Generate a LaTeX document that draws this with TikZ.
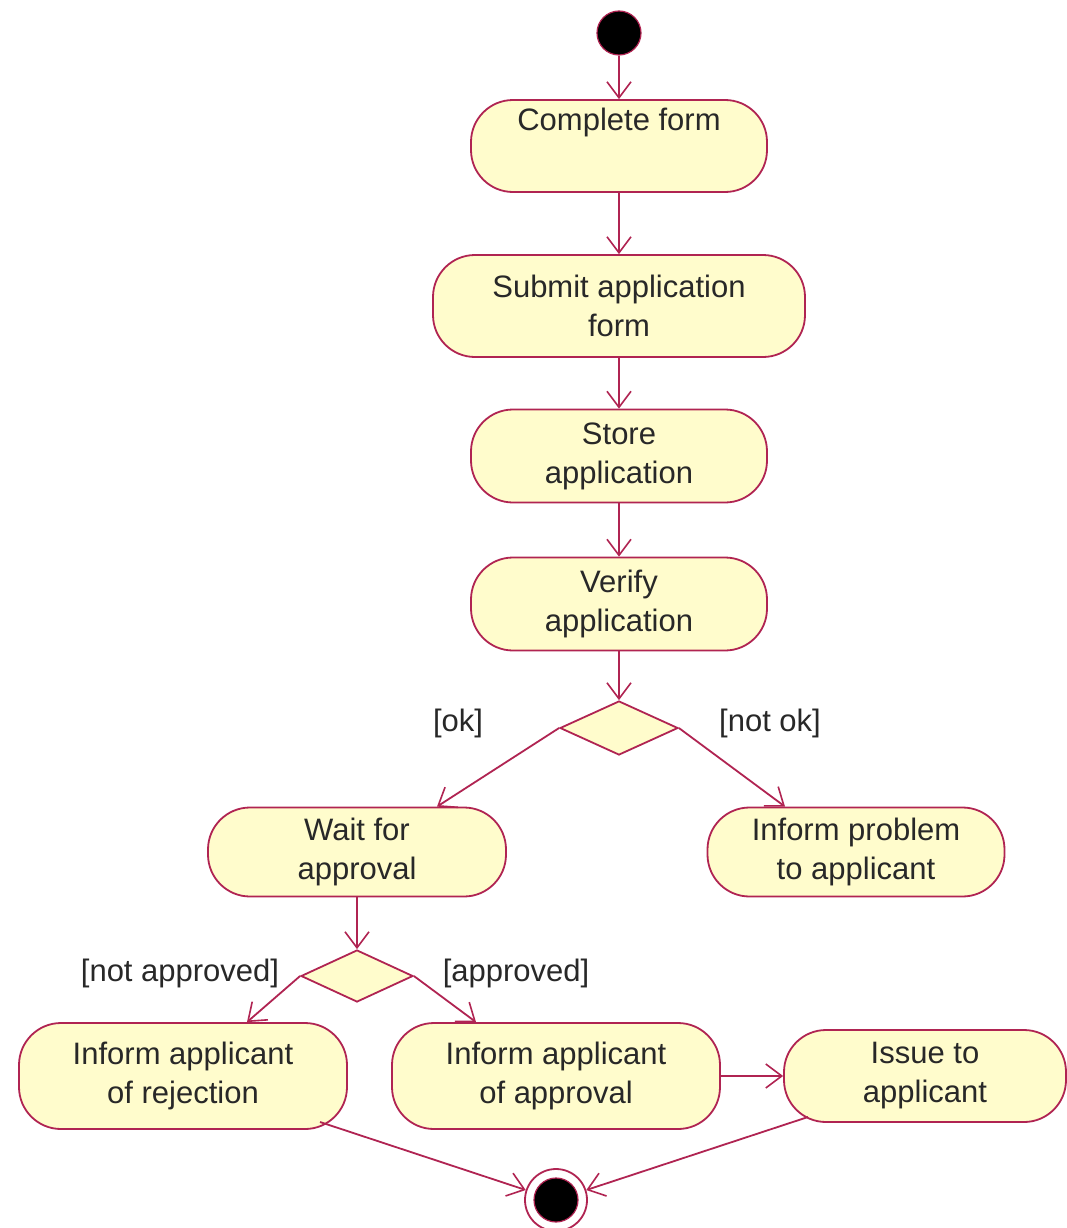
\documentclass[tikz,border=0pt]{standalone}
\usepackage{fontspec}
\setmainfont{Liberation Sans}
\usetikzlibrary{shapes.geometric,arrows.meta,calc}
\definecolor{umlline}{RGB}{176,36,82}
\definecolor{umlfill}{RGB}{255,252,204}
\definecolor{umltext}{RGB}{40,40,40}
\begin{document}
\begin{tikzpicture}[x=1pt,y=-1pt,
  act/.style={draw=umlline, fill=umlfill, line width=1.8pt, rectangle, rounded corners=42pt,
    align=center, text=umltext, font=\fontsize{31}{39}\selectfont, inner sep=0pt},
  dec/.style={draw=umlline, fill=umlfill, line width=1.8pt, diamond, inner sep=0pt,
    minimum width=118pt, minimum height=54pt},
  flow/.style={draw=umlline, line width=1.8pt, -{Straight Barb[length=16pt,width=24pt,line width=1.6pt]}},
  guard/.style={text=umltext, font=\fontsize{31}{39}\selectfont, inner sep=0pt}
]
\useasboundingbox (0,0) rectangle (1067,1228);
\fill[white] (0,0) rectangle (1067,1228);

\node[circle, fill=black, draw=umlline, line width=1.2pt, minimum size=44pt, inner sep=0pt] (start) at (619,33) {};

\node[act, minimum width=296pt, minimum height=92pt] (complete) at (619,146) {Complete form\\[2pt]\strut};
\node[act, minimum width=372pt, minimum height=102pt] (submit) at (619,306) {Submit application\\form};
\node[act, minimum width=296pt, minimum height=93pt] (store) at (619,456) {Store\\application};
\node[act, minimum width=296pt, minimum height=93pt] (verify) at (619,604) {Verify\\application};

\node[dec] (d1) at (619,728) {};
\node[guard] (ok) at (458,723) {[ok]};
\node[guard] (notok) at (770,723) {[not ok]};

\node[act, minimum width=298pt, minimum height=89pt] (wait) at (357,852) {Wait for\\approval};
\node[act, minimum width=297pt, minimum height=89pt] (problem) at (856,852) {Inform problem\\to applicant};

\node[dec, minimum width=112pt, minimum height=52pt] (d2) at (357,976) {};
\node[guard] (notappr) at (180,973) {[not approved]};
\node[guard] (appr) at (516,973) {[approved]};

\node[act, minimum width=328pt, minimum height=106pt] (reject) at (183,1076) {Inform applicant\\of rejection};
\node[act, minimum width=328pt, minimum height=106pt] (approve) at (556,1076) {Inform applicant\\of approval};
\node[act, minimum width=282pt, minimum height=92pt] (issue) at (925,1076) {Issue to\\applicant};

\node[circle, draw=umlline, line width=1.8pt, fill=white, minimum size=62pt, inner sep=0pt] (final) at (556,1200) {};
\fill[black, draw=umlline, line width=1.2pt] (final.center) circle[radius=22pt];

\draw[flow] (start) -- (complete.north);
\draw[flow] (complete.south) -- (submit.north);
\draw[flow] (submit.south) -- (store.north);
\draw[flow] (store.south) -- (verify.north);
\draw[flow] (verify.south) -- (d1.north);
\draw[flow] (d1.west) -- ($(wait.north)+(80,0)$);
\draw[flow] (d1.east) -- ($(problem.north)+(-71,0)$);
\draw[flow] (wait.south) -- (d2.north);
\draw[flow] (d2.west) -- ($(reject.north)+(64,0)$);
\draw[flow] (d2.east) -- ($(approve.north)+(-80,0)$);
\draw[flow] (approve.east) -- (issue.west);
\draw[flow] ($(reject.center)+(137,46)$) -- (final);
\draw[flow] ($(issue.center)+(-117,41)$) -- (final);
\end{tikzpicture}
\end{document}
